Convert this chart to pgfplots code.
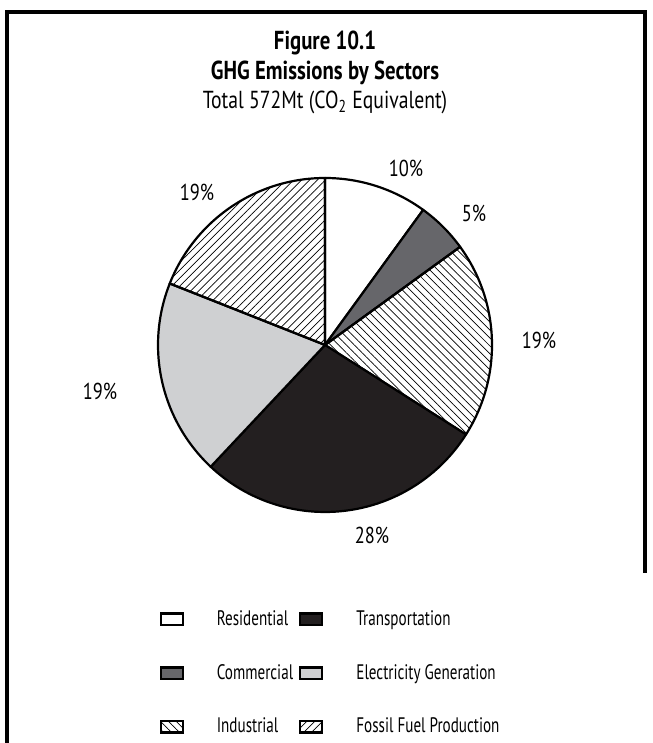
\documentclass[border=0pt]{standalone}
\usepackage{fontspec}
\setmainfont{PT Sans}[FakeStretch=0.8]
\newfontfamily\legfont{PT Sans}[FakeStretch=0.72]
\usepackage{pgfplots}
\pgfplotsset{compat=1.18}
\usepackage{pgfplotstable}
\usetikzlibrary{patterns.meta}

\definecolor{commgray}{RGB}{102,102,106}
\definecolor{elecgray}{RGB}{207,208,210}
\definecolor{transblack}{RGB}{35,31,32}

\tikzset{
  s0/.style={fill=white},
  s1/.style={fill=commgray},
  s2/.style={pattern={Lines[angle=-45,distance=2.8pt,line width=0.35pt]}},
  s3/.style={fill=transblack},
  s4/.style={fill=elecgray},
  s5/.style={pattern={Lines[angle=45,distance=2.8pt,line width=0.35pt]}},
}

% share of each sector, percent, clockwise from 12 o'clock
\pgfplotstableread{
sector value
Residential 10
Commercial 5
Industrial 19
Transportation 28
Electricity 19
Fossil 19
}\emissions

\begin{document}
\begin{tikzpicture}
\begin{axis}[
  width=326pt, height=371.5pt, scale only axis,
  xmin=0, xmax=652, ymin=0, ymax=743,
  hide axis, clip=false,
  legend columns=2,
  legend cell align=left,
  legend image code/.code={\draw[#1,draw=black,line width=1.1pt] (0pt,-2.8pt) rectangle (11pt,2.8pt);},
  legend style={draw=none, fill=none,
    at={(axis description cs:0.235,0.19)}, anchor=north west,
    font=\legfont\fontsize{10.5pt}{12pt}\selectfont,
    row sep=14pt,
    /tikz/every odd column/.append style={column sep=14.5pt},
    /tikz/every even column/.append style={column sep=1pt}},
]
% frame
\draw[line width=2pt] (axis cs:7,0) -- (axis cs:7,731) -- (axis cs:645,731) -- (axis cs:645,170);

% titles
\node[font=\bfseries\fontsize{13pt}{15pt}\selectfont] at (axis cs:325,700) {Figure 10.1};
\node[font=\bfseries\fontsize{13pt}{15pt}\selectfont] at (axis cs:325,670) {GHG Emissions by Sectors};
\node[font=\fontsize{12.3pt}{14pt}\selectfont] at (axis cs:325,641) {Total 572Mt (CO\textsubscript{2} Equivalent)};

% pie slices
\xdef\cum{0}
\pgfplotsinvokeforeach{0,...,5}{
  \pgfplotstablegetelem{#1}{value}\of\emissions
  \pgfmathsetmacro\a{90-3.6*\cum}
  \pgfmathsetmacro\d{-3.6*\pgfplotsretval}
  \edef\temp{\noexpand\filldraw[s#1,draw=black,line width=1.1pt,line join=round]
    (axis cs:325,398) -- ++(\a:83.5pt) arc[start angle=\a, delta angle=\d, radius=83.5pt] -- cycle;}
  \temp
  \pgfmathsetmacro\c{\cum+\pgfplotsretval}
  \xdef\cum{\c}
}

% percentage labels
\begin{scope}[every node/.style={font=\fontsize{11.5pt}{13pt}\selectfont}]
\node at (axis cs:406,575) {10\%};
\node at (axis cs:474,530) {5\%};
\node at (axis cs:539,403) {19\%};
\node at (axis cs:372,208) {28\%};
\node at (axis cs:100,352) {19\%};
\node at (axis cs:197,551) {19\%};
\end{scope}

% legend
\addlegendimage{fill=white}
\addlegendentry{Residential}
\addlegendimage{fill=transblack}
\addlegendentry{Transportation}
\addlegendimage{fill=commgray}
\addlegendentry{Commercial}
\addlegendimage{fill=elecgray}
\addlegendentry{Electricity Generation}
\addlegendimage{pattern={Lines[angle=-45,distance=2.8pt,line width=0.35pt]}}
\addlegendentry{Industrial}
\addlegendimage{pattern={Lines[angle=45,distance=2.8pt,line width=0.35pt]}}
\addlegendentry{Fossil Fuel Production}
\end{axis}
\pgfresetboundingbox
\path (current axis.south west) rectangle (current axis.north east);
\end{tikzpicture}
\end{document}
